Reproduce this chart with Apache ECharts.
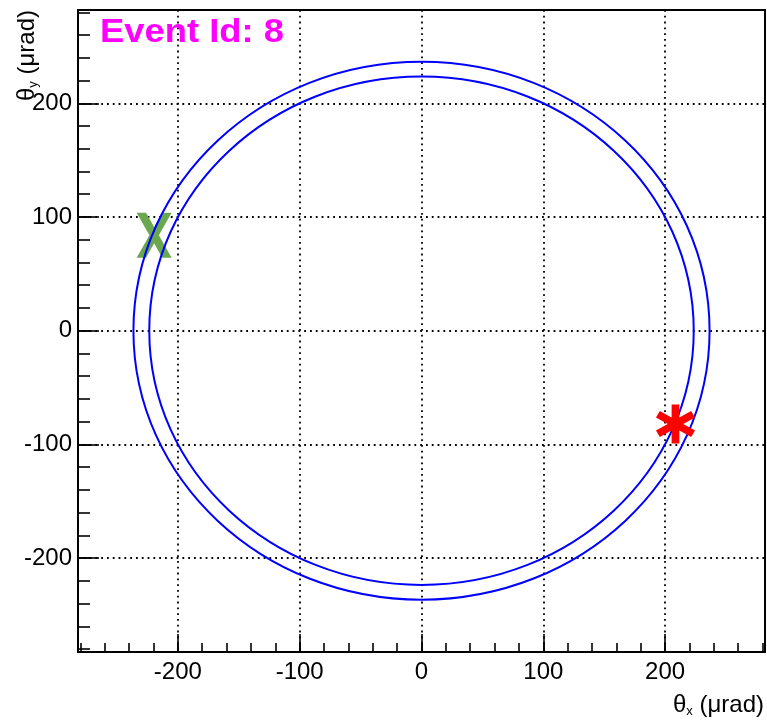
<!DOCTYPE html>
<html>
<head>
<meta charset="utf-8">
<script src="https://cdn.jsdelivr.net/npm/echarts@6/dist/echarts.min.js"></script>
<style>
html,body{margin:0;padding:0;background:#fff;}
#chart{width:767px;height:726px;}
</style>
</head>
<body>
<div id="chart"></div>
<script>
// ---- data ----
const xRange = [-282, 282];
const yRange = [-282.5, 282];
const tickLabels = [-200, -100, 0, 100, 200];
// rings: centre x, centre y, radius (µrad)
const ringCx = [0, 0];
const ringCy = [0, 0];
const ringR = [236.5, 223.5];
// markers
const greenCross = [[-219.5, 84]];
const redStar = [[208.5, -82]];
const eventTitle = 'Event Id: 8';

const FONT = '"Liberation Sans", Arial, Helvetica, sans-serif';
const ringData = ringR.map((r, i) => [ringCx[i], ringCy[i], r]);

const crossPath = 'path://M-0.78,-1L-0.36,-1L0,-0.36L0.36,-1L0.78,-1L0.21,0L0.78,1L0.36,1L0,0.36L-0.36,1L-0.78,1L-0.21,0Z';
const starPath = 'path://M0.19,1L-0.19,1L-0.19,-1L0.19,-1Z' +
  'M0.961,0.335L0.771,0.665L-0.961,-0.335L-0.771,-0.665Z' +
  'M-0.771,0.665L-0.961,0.335L0.771,-0.665L0.961,-0.335Z';

function fmt(v) {
  const r = Math.round(v);
  return (Math.abs(v - r) < 1e-6 && tickLabels.indexOf(r) >= 0) ? String(r) : '';
}
const gridLine = { show: true, lineStyle: { color: '#000', width: 1.8, type: [1.8, 4] } };
const noLine = { show: false, onZero: false };

const chart = echarts.init(document.getElementById('chart'));
chart.setOption({
  animation: false,
  backgroundColor: '#fff',
  grid: { left: 78, right: 2, top: 10, bottom: 74, show: true, borderColor: '#000', borderWidth: 2, backgroundColor: 'transparent' },
  xAxis: [
    {
      type: 'value', position: 'bottom', min: xRange[0], max: xRange[1], splitNumber: 5, minInterval: 100, maxInterval: 100,
      axisLine: noLine,
      axisTick: { show: true, inside: true, length: 18, lineStyle: { color: '#000', width: 1.6 } },
      axisLabel: { formatter: fmt, fontSize: 24, color: '#000', fontFamily: FONT, margin: 8, showMinLabel: false, showMaxLabel: false },
      splitLine: gridLine
    },
    {
      type: 'value', position: 'bottom', min: xRange[0], max: xRange[1], splitNumber: 28, minInterval: 20, maxInterval: 20,
      axisLine: noLine,
      axisTick: { show: true, inside: true, length: 9, lineStyle: { color: '#000', width: 1.6 } },
      axisLabel: { show: false }, splitLine: { show: false }
    }
  ],
  yAxis: [
    {
      type: 'value', position: 'left', min: yRange[0], max: yRange[1], splitNumber: 5, minInterval: 100, maxInterval: 100,
      axisLine: noLine,
      axisTick: { show: true, inside: true, length: 21, lineStyle: { color: '#000', width: 1.6 } },
      axisLabel: { formatter: fmt, fontSize: 24, color: '#000', fontFamily: FONT, margin: 6, showMinLabel: false, showMaxLabel: false },
      splitLine: gridLine
    },
    {
      type: 'value', position: 'left', min: yRange[0], max: yRange[1], splitNumber: 28, minInterval: 20, maxInterval: 20,
      axisLine: noLine,
      axisTick: { show: true, inside: true, length: 12, lineStyle: { color: '#000', width: 1.6 } },
      axisLabel: { show: false }, splitLine: { show: false }
    }
  ],
  series: [
    {
      type: 'scatter', data: greenCross, symbol: crossPath, symbolSize: [35, 45], z: 3,
      itemStyle: { color: '#6aa84f', opacity: 1 }
    },
    {
      type: 'custom', data: ringData, z: 4, clip: true,
      renderItem: function (params, api) {
        const c = api.coord([api.value(0), api.value(1)]);
        const s = api.size([api.value(2), api.value(2)]);
        return {
          type: 'ellipse',
          shape: { cx: c[0], cy: c[1], rx: s[0], ry: s[1] },
          style: { fill: null, stroke: '#0000ff', lineWidth: 2 }
        };
      }
    },
    {
      type: 'scatter', data: redStar, symbol: starPath, symbolSize: [39, 39], z: 5,
      itemStyle: { color: '#ff0000', opacity: 1 }
    }
  ],
  graphic: [
    {
      type: 'text', x: 100, y: 33, scaleX: 1.07, z: 10,
      style: { text: eventTitle, font: 'bold 34px ' + FONT, fill: '#ff00ff', align: 'left', verticalAlign: 'middle' }
    },
    {
      type: 'text', x: 764, y: 705, z: 10,
      style: {
        text: '{a|θ}{s|x}{a| (μrad)}', align: 'right', verticalAlign: 'middle',
        rich: {
          a: { fontSize: 24, fontFamily: FONT, fill: '#000', color: '#000' },
          s: { fontSize: 13, fontFamily: FONT, fill: '#000', color: '#000', verticalAlign: 'bottom', padding: [12, 0, 0, 0] }
        }
      }
    },
    {
      type: 'text', x: 27, y: 10, rotation: Math.PI / 2, z: 10,
      style: {
        text: '{a|θ}{s|y}{a| (μrad)}', align: 'right', verticalAlign: 'middle',
        rich: {
          a: { fontSize: 24, fontFamily: FONT, fill: '#000', color: '#000' },
          s: { fontSize: 13, fontFamily: FONT, fill: '#000', color: '#000', verticalAlign: 'bottom', padding: [12, 0, 0, 0] }
        }
      }
    }
  ]
});
</script>
</body>
</html>
